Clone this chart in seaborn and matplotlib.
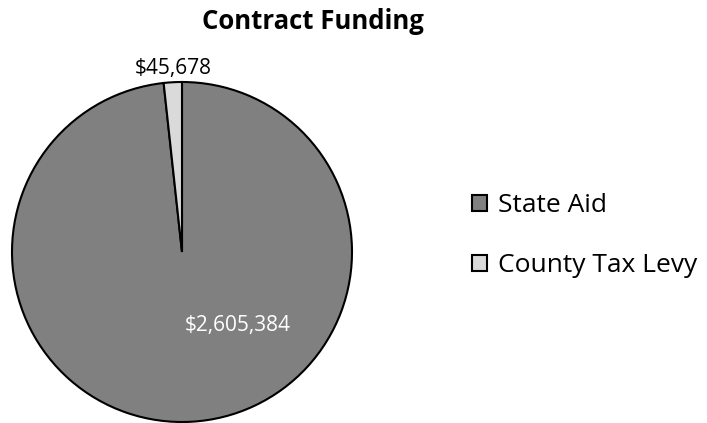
"""Contract Funding pie chart."""

import matplotlib
matplotlib.use("Agg")
import matplotlib.pyplot as plt
import seaborn as sns

categories = ["State Aid", "County Tax Levy"]
values = [2605384, 45678]
value_labels = ["$2,605,384", "$45,678"]
colors = ["#808080", "#dadada"]

sns.set_theme(style="white")
plt.rcParams["font.family"] = ["Open Sans", "DejaVu Sans"]
plt.rcParams["text.color"] = "black"

fig = plt.figure(figsize=(7.07, 4.23), dpi=100)
# pie area: centre ~ (182, 252) px, radius ~170 px
ax = fig.add_axes([12 / 707, 1 / 423, 340 / 707, 340 / 423])

wedges, _ = ax.pie(values, colors=colors, startangle=90, counterclock=False,
                   wedgeprops=dict(edgecolor="black", linewidth=1.5))
ax.set_xlim(-1, 1)
ax.set_ylim(-1, 1)
ax.set_aspect("equal")
ax.axis("off")

# data labels
ax.text(0.33, -0.435, value_labels[0], ha="center", va="center", fontsize=15,
        color="white")
ax.text(-0.05, 1.08, value_labels[1], ha="center", va="center", fontsize=15,
        color="black")

fig.text(0.443, 0.948, "Contract Funding", ha="center", va="center",
         fontsize=18.5, fontweight="bold", color="black")

fig.legend(wedges, categories, loc="center left", bbox_to_anchor=(0.634, 0.443),
           frameon=False, fontsize=19, handlelength=0.57, handleheight=0.57,
           handletextpad=0.42, labelspacing=1.33, labelcolor="black")

fig.savefig("out.png", dpi=100)
